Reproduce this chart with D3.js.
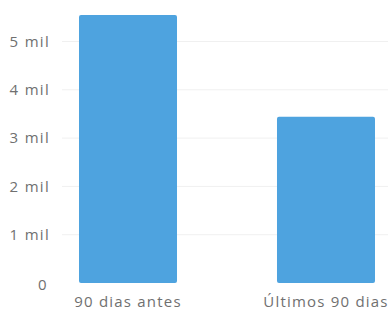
<!DOCTYPE html>
<html><head><meta charset="utf-8">
<script src="https://cdn.jsdelivr.net/npm/d3@7"></script>
<style>
html,body{margin:0;padding:0;background:#fff;overflow:hidden;}
svg{display:block;}
text{font-family:"Open Sans","Noto Sans",sans-serif;}
</style></head>
<body>
<svg id="c" width="388" height="314"></svg>
<script>
const categories = ["90 dias antes", "Últimos 90 dias"];
const values = [5550, 3440];
const yTicks = [0, 1000, 2000, 3000, 4000, 5000];
const yTickLabels = ["0", "1 mil", "2 mil", "3 mil", "4 mil", "5 mil"];

const svg = d3.select("#c");
const x = d3.scaleBand().domain(categories).range([29.5, 424.5]).paddingInner(0.505).paddingOuter(0.25);
const y = d3.scaleLinear().domain([0, 5000]).range([283, 41.5]);

// gridlines
svg.append("g").selectAll("line").data(yTicks.filter(d => d > 0)).join("line")
  .attr("x1", 62).attr("x2", 388)
  .attr("y1", d => y(d)).attr("y2", d => y(d))
  .attr("stroke", "#f0f0f0").attr("stroke-width", 1);

// y axis
const yAxis = d3.axisLeft(y).tickValues(yTicks).tickFormat((d, i) => yTickLabels[i]).tickSize(0).tickPadding(0);
const gy = svg.append("g").attr("transform", "translate(50,0)").call(yAxis);
gy.select(".domain").remove();
gy.selectAll("text").attr("fill", "#707070").style("font-size", "15px").style("letter-spacing", "1.3px");
gy.selectAll(".tick").filter(d => d === 0).select("text").attr("dy", "0.45em").attr("dx", "-2");

// bars
svg.append("g").selectAll("rect").data(values).join("rect")
  .attr("x", (d, i) => x(categories[i]))
  .attr("width", x.bandwidth())
  .attr("y", d => y(d))
  .attr("height", d => y(0) - y(d))
  .attr("rx", 2)
  .attr("fill", "#4ea3df");

// x axis
const xAxis = d3.axisBottom(x).tickSize(0).tickPadding(0);
const gx = svg.append("g").attr("transform", "translate(0,296)").call(xAxis);
gx.select(".domain").remove();
gx.selectAll("text").attr("fill", "#707070").style("font-size", "15px").style("letter-spacing", "1.2px");
</script>
</body></html>
